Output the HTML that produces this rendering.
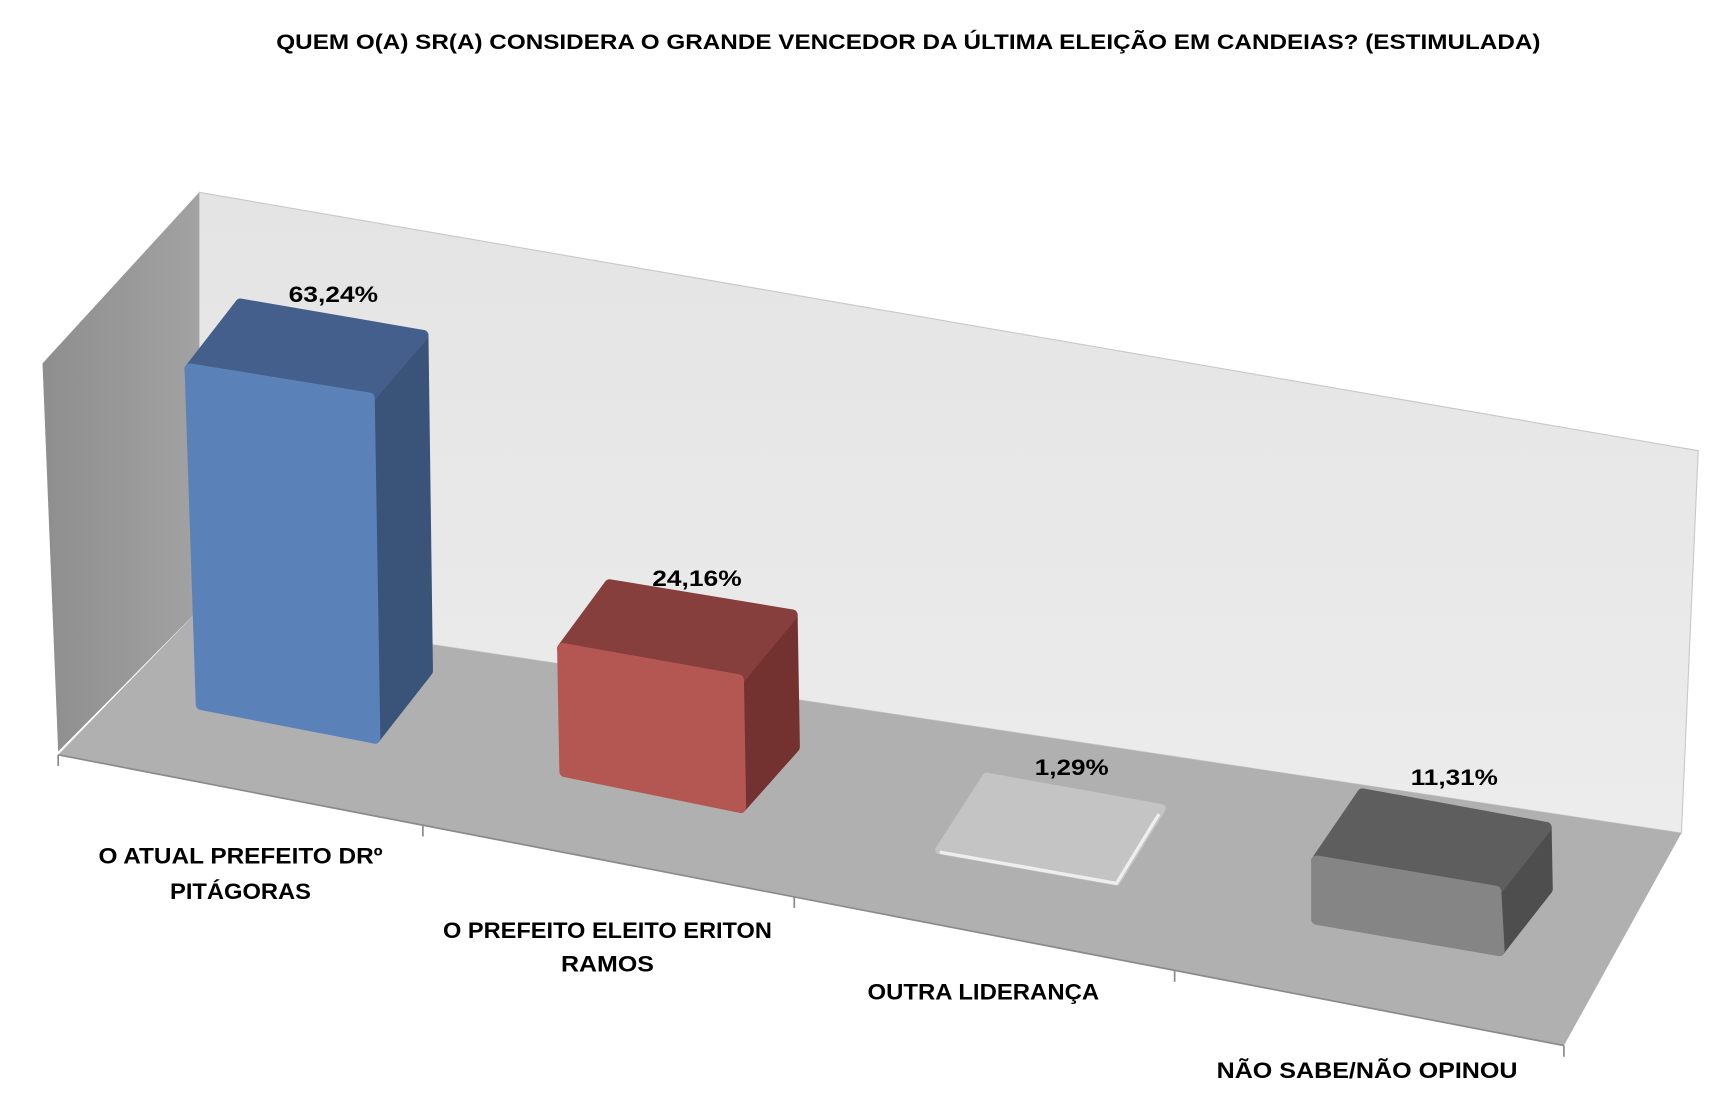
<!DOCTYPE html>
<html><head><meta charset="utf-8"><style>html,body{margin:0;padding:0;background:#fff}svg{display:block}</style></head>
<body>
<svg width="1734" height="1116" viewBox="0 0 1550 998" preserveAspectRatio="none" xmlns="http://www.w3.org/2000/svg" font-family="'Liberation Sans',sans-serif" font-weight="bold">
<defs>
<linearGradient id="lw" x1="0" y1="0" x2="1" y2="0"><stop offset="0" stop-color="#8e8e8e"/><stop offset="1" stop-color="#a2a2a2"/></linearGradient>
<linearGradient id="bw" x1="0" y1="0" x2="0" y2="1"><stop offset="0" stop-color="#e4e4e4"/><stop offset="1" stop-color="#ececec"/></linearGradient>
</defs>
<text x="812" y="44" text-anchor="middle" font-size="19" textLength="1130" lengthAdjust="spacingAndGlyphs">QUEM O(A) SR(A) CONSIDERA O GRANDE VENCEDOR DA ÚLTIMA ELEIÇÃO EM CANDEIAS? (ESTIMULADA)</text>
<polygon points="178,172 1518,403 1503,745 178,545" fill="url(#bw)" stroke="#c8c8c8" stroke-width="1"/>
<polygon points="38,325 178,172 178,545 52,672" fill="url(#lw)"/>
<polygon points="52,675 178,545 1503,745 1398,935" fill="#b0b0b0"/>
<line x1="52" y1="675" x2="1398" y2="935" stroke="#8a8a8a" stroke-width="1.5"/>
<g stroke="#8a8a8a" stroke-width="1.5">
<line x1="52" y1="675" x2="52" y2="685"/><line x1="378" y1="738" x2="378" y2="748"/><line x1="710" y1="802" x2="710" y2="812"/><line x1="1050" y1="868" x2="1050" y2="878"/><line x1="1398" y1="935" x2="1398" y2="945"/>
</g>
<g stroke-linejoin="round" stroke-width="10">
<polygon points="330,356 378,300 382,600 335,660" fill="#3a5378" stroke="#3a5378"/>
<polygon points="170,330 215,272 378,300 330,356" fill="#445f8b" stroke="#445f8b"/>
<polygon points="170,330 330,356 335,660 180,630" fill="#5a82b9" stroke="#5a82b9"/>
<polygon points="660,608 708,550 710,668 662,722" fill="#733230" stroke="#733230"/>
<polygon points="503,580 545,523 708,550 660,608" fill="#873f3d" stroke="#873f3d"/>
<polygon points="503,580 660,608 662,722 505,690" fill="#b45752" stroke="#b45752"/>
<polygon points="1337,797 1382,740 1383,795 1340,850" fill="#4e4e4e" stroke="#4e4e4e"/>
<polygon points="1177,770 1218,710 1382,740 1337,797" fill="#5e5e5e" stroke="#5e5e5e"/>
<polygon points="1177,770 1337,797 1340,850 1177,822" fill="#858585" stroke="#858585"/>
</g>
<polygon points="840,760 882,695 1038,723 998,788" fill="#c4c4c4" stroke="#c4c4c4" stroke-width="8" stroke-linejoin="round"/>
<polyline points="840,762 998,790 1036,728" fill="none" stroke="#eeeeee" stroke-width="3" stroke-linejoin="round"/>
<g font-size="20" text-anchor="middle">
<text x="298" y="270" textLength="80" lengthAdjust="spacingAndGlyphs">63,24%</text>
<text x="623" y="524" textLength="80" lengthAdjust="spacingAndGlyphs">24,16%</text>
<text x="958" y="693" textLength="66" lengthAdjust="spacingAndGlyphs">1,29%</text>
<text x="1300" y="702" textLength="78" lengthAdjust="spacingAndGlyphs">11,31%</text>
</g>
<g font-size="20" text-anchor="middle">
<text x="215" y="772" textLength="254" lengthAdjust="spacingAndGlyphs">O ATUAL PREFEITO DRº</text>
<text x="215" y="804" textLength="126" lengthAdjust="spacingAndGlyphs">PITÁGORAS</text>
<text x="543" y="839" textLength="294" lengthAdjust="spacingAndGlyphs">O PREFEITO ELEITO ERITON</text>
<text x="543" y="869" textLength="83" lengthAdjust="spacingAndGlyphs">RAMOS</text>
<text x="879" y="894" textLength="207" lengthAdjust="spacingAndGlyphs">OUTRA LIDERANÇA</text>
<text x="1222" y="964" textLength="269" lengthAdjust="spacingAndGlyphs">NÃO SABE/NÃO OPINOU</text>
</g>
</svg>
</body></html>
